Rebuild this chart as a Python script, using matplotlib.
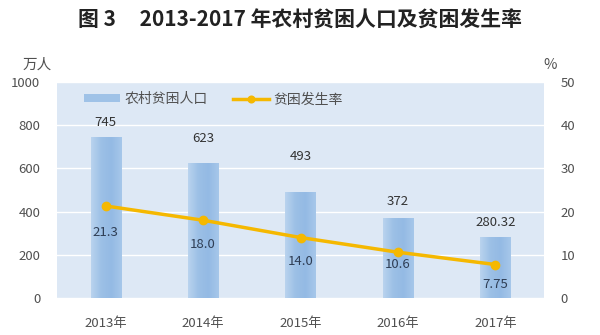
import matplotlib.pyplot as plt
import numpy as np
from matplotlib.colors import LinearSegmentedColormap

plt.rcParams['font.family'] = ['Noto Sans CJK SC', 'DejaVu Sans']

years = ["2013年", "2014年", "2015年", "2016年", "2017年"]
population = [745, 623, 493, 372, 280.32]
population_labels = ["745", "623", "493", "372", "280.32"]
rate = [21.3, 18.0, 14.0, 10.6, 7.75]
rate_labels = ["21.3", "18.0", "14.0", "10.6", "7.75"]

# label offsets in pixels (as placed in the original)
pop_offsets = [15, 25, 35, 16, 15]
rate_offsets = [27, 24, 24, 12, 20]

TXT = "#505050"
fig = plt.figure(figsize=(6, 3.35), dpi=100)
ax = fig.add_axes([57 / 600, 1 - 298 / 335, 487 / 600, 216 / 335])
ax.set_facecolor("#dde8f5")
ax2 = ax.twinx()

x = np.arange(len(years))
bars = ax.bar(x, population, width=0.31, color="#9fc2e7", edgecolor="none",
              zorder=2, label="农村贫困人口")

# soft shading across each bar, like the original
shade = LinearSegmentedColormap.from_list(
    "shade", ["#b9d3ee", "#9cc0e6", "#94bae4", "#a6c7ea"])
grad = np.linspace(0, 1, 64).reshape(1, -1)
for b in bars:
    im = ax.imshow(grad, cmap=shade, aspect="auto", zorder=2.1,
                   extent=[b.get_x(), b.get_x() + b.get_width(), 0, b.get_height()])
    im.set_clip_path(b)

ax.set_ylim(0, 1000)
ax.set_yticks(range(0, 1001, 200))
ax.set_xlim(-0.5, 4.5)
ax.set_xticks(x, years)
ax.grid(axis="y", color="white", linewidth=1.0, zorder=1)
ax.set_axisbelow(True)
for s in ax.spines.values():
    s.set_visible(False)
for s in ax2.spines.values():
    s.set_visible(False)
ax.tick_params(length=0, labelsize=9.5, colors=TXT, pad=12)
ax.tick_params(axis="x", pad=14)

ax2.plot(x, rate, color="#f5b800", linewidth=2.5, marker="o", markersize=6,
         zorder=3, label="贫困发生率")
ax2.set_ylim(0, 50)
ax2.set_yticks(range(0, 51, 10))
ax2.tick_params(length=0, labelsize=9.5, colors=TXT, pad=12)

for xi, v, t, off in zip(x, population, population_labels, pop_offsets):
    ax.annotate(t, (xi, v), xytext=(0, off * 0.72), textcoords="offset points",
                ha="center", va="center", fontsize=9.5, color="#333333")
for xi, v, t, off in zip(x, rate, rate_labels, rate_offsets):
    ax2.annotate(t, (xi, v), xytext=(0, -off * 0.72), textcoords="offset points",
                 ha="center", va="center", fontsize=9.5, color="#2f3e55")

h1, l1 = ax.get_legend_handles_labels()
h2, l2 = ax2.get_legend_handles_labels()
ax2.legend(h1 + h2, l1 + l2, loc="upper left", bbox_to_anchor=(0.03, 1.01),
           ncol=2, frameon=False, fontsize=10, labelcolor=TXT,
           handlelength=2.6, handleheight=0.5, columnspacing=1.8,
           handletextpad=0.3, markerscale=0.8)

fig.text(37 / 600, 1 - 65 / 335, "万人", ha="center", va="center",
         fontsize=10.5, color=TXT)
fig.text(550 / 600, 1 - 65 / 335, "%", ha="center", va="center",
         fontsize=10.5, color=TXT)
fig.text(0.5, 1 - 20 / 335, "图 3     2013-2017 年农村贫困人口及贫困发生率",
         ha="center", va="center", fontsize=15, fontweight="bold", color="#222222")

fig.savefig("out.png", dpi=100)
